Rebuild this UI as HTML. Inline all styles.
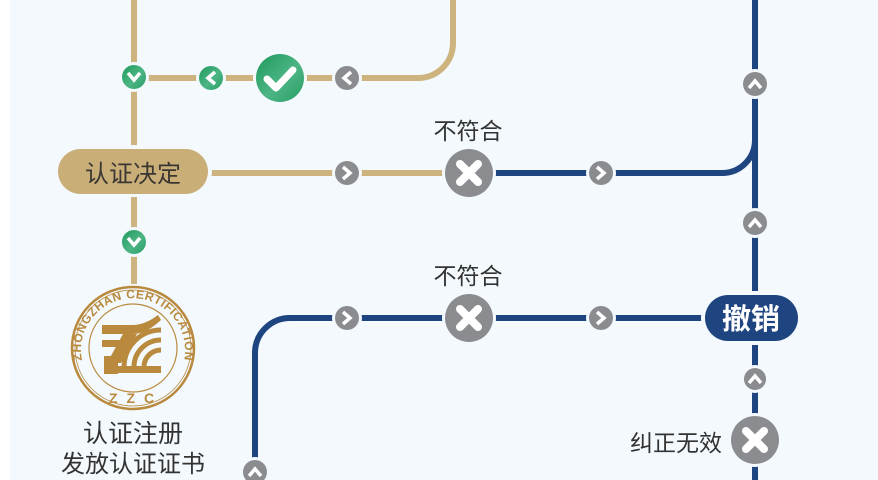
<!DOCTYPE html>
<html><head><meta charset="utf-8">
<style>
html,body{margin:0;padding:0;background:#f3f9fd;}
body{width:878px;height:480px;overflow:hidden;position:relative;}
svg{display:block;position:absolute;left:0;top:0;}
text{font-family:"Liberation Sans","Noto Sans CJK SC",sans-serif;}
</style></head>
<body>
<svg width="878" height="480" viewBox="0 0 878 480" xmlns="http://www.w3.org/2000/svg">
<defs>
<linearGradient id="gg" x1="0" y1="0" x2="1" y2="1">
<stop offset="0" stop-color="#1f9a5c"/><stop offset="0.55" stop-color="#4cb584"/><stop offset="1" stop-color="#2a9f66"/>
</linearGradient>
<path id="arcT" d="M89 378 A52 52 0 1 1 177 378"/>
</defs>
<rect x="0" y="0" width="878" height="480" fill="#f3f9fd"/>
<rect x="0" y="0" width="10" height="480" fill="#ffffff"/>

<!-- tan lines -->
<g stroke="#cdb47f" stroke-width="6" fill="none">
<path d="M134 0 V146"/>
<path d="M134 196 V284"/>
<path d="M134 78 H418 A35 35 0 0 0 453 43 V0"/>
<path d="M210 173 H446"/>
</g>
<!-- navy lines -->
<g stroke="#1f4580" stroke-width="6" fill="none">
<path d="M755 0 V480"/>
<path d="M492 173 H722 A33 33 0 0 0 755 140"/>
<path d="M255 480 V352 A35 35 0 0 1 290 318 H706"/>
</g>

<!-- pills -->
<rect x="54" y="145" width="158" height="52" rx="26" fill="#f3f9fd"/>
<rect x="58" y="149" width="150" height="45" rx="22.5" fill="#c9ae78"/>
<text x="133" y="182" font-size="24" fill="#3a3632" text-anchor="middle">认证决定</text>

<rect x="701" y="291" width="101" height="54" rx="27" fill="#f3f9fd"/>
<rect x="705" y="295" width="93" height="46" rx="23" fill="#1f4580"/>
<text x="751" y="329" font-size="29" font-weight="bold" fill="#ffffff" text-anchor="middle">撤销</text>

<!-- halos -->
<g fill="#f3f9fd">
<circle cx="134" cy="77" r="15"/>
<circle cx="211" cy="78" r="15"/>
<circle cx="280" cy="78" r="27"/>
<circle cx="347" cy="78" r="15"/>
<circle cx="347" cy="173" r="15"/>
<circle cx="469" cy="173" r="27"/>
<circle cx="601" cy="173" r="15"/>
<circle cx="755" cy="84" r="15"/>
<circle cx="755" cy="223" r="15"/>
<circle cx="134" cy="242" r="15"/>
<circle cx="347" cy="318" r="15"/>
<circle cx="469" cy="318" r="27"/>
<circle cx="601" cy="318" r="15"/>
<circle cx="755" cy="379" r="14"/>
<circle cx="755" cy="440" r="27"/>
<circle cx="255" cy="472" r="15"/>
</g>

<!-- green chevrons -->
<g>
<circle cx="134" cy="77" r="12" fill="url(#gg)"/>
<polyline points="128,73 134,80 140,73" fill="none" stroke="#fff" stroke-width="3.5" stroke-linejoin="miter"/>
<circle cx="211" cy="78" r="12" fill="url(#gg)"/>
<polyline points="215,72 208,78 215,84" fill="none" stroke="#fff" stroke-width="3.5"/>
<circle cx="134" cy="242" r="12" fill="url(#gg)"/>
<polyline points="128,238 134,245 140,238" fill="none" stroke="#fff" stroke-width="3.5"/>
<circle cx="280" cy="78" r="24" fill="url(#gg)"/>
<polyline points="267,79 276,88 293,70" fill="none" stroke="#fff" stroke-width="7" stroke-linecap="round" stroke-linejoin="round"/>
</g>

<!-- gray chevrons -->
<g fill="#8a8c8f">
<circle cx="347" cy="78" r="12"/>
<circle cx="347" cy="173" r="12"/>
<circle cx="601" cy="173" r="12"/>
<circle cx="755" cy="84" r="12"/>
<circle cx="755" cy="223" r="12"/>
<circle cx="347" cy="318" r="12"/>
<circle cx="601" cy="318" r="12"/>
<circle cx="755" cy="379" r="11"/>
<circle cx="255" cy="472" r="12"/>
</g>
<g fill="none" stroke="#fff" stroke-width="3.5">
<polyline points="351,72 344,78 351,84"/>
<polyline points="343,167 350,173 343,179"/>
<polyline points="597,167 604,173 597,179"/>
<polyline points="749,88 755,81 761,88"/>
<polyline points="749,227 755,220 761,227"/>
<polyline points="343,312 350,318 343,324"/>
<polyline points="597,312 604,318 597,324"/>
<polyline points="749,383 755,376 761,383"/>
<polyline points="249,476 255,469 261,476"/>
</g>

<!-- X circles -->
<g>
<circle cx="469" cy="173" r="24" fill="#8a8c8f"/>
<path d="M460 164 L478 182 M478 164 L460 182" stroke="#fff" stroke-width="8" stroke-linecap="round"/>
<circle cx="469" cy="318" r="24" fill="#8a8c8f"/>
<path d="M460 309 L478 327 M478 309 L460 327" stroke="#fff" stroke-width="8" stroke-linecap="round"/>
<circle cx="755" cy="440" r="24" fill="#8a8c8f"/>
<path d="M746 431 L764 449 M764 431 L746 449" stroke="#fff" stroke-width="8" stroke-linecap="round"/>
</g>

<!-- labels -->
<text x="468" y="139" font-size="23" fill="#333" text-anchor="middle">不符合</text>
<text x="468" y="284" font-size="23" fill="#333" text-anchor="middle">不符合</text>
<text x="722" y="451" font-size="23" fill="#333" text-anchor="end">纠正无效</text>

<!-- logo -->
<g>
<circle cx="133" cy="348" r="61" fill="#f3f9fd" stroke="#b98a3e" stroke-width="2.5"/>
<circle cx="133" cy="348" r="58" fill="none" stroke="#b98a3e" stroke-width="0.8"/>
<circle cx="133" cy="348" r="44" fill="none" stroke="#b98a3e" stroke-width="1.2"/>
<text font-size="12" font-weight="bold" fill="#b98a3e" letter-spacing="0.5"><textPath href="#arcT" startOffset="50%" text-anchor="middle">ZHONGZHAN CERTIFICATION</textPath></text>
<text x="136" y="403" font-size="14" font-weight="bold" fill="#b98a3e" text-anchor="middle" letter-spacing="9">ZZC</text>
<g fill="#b98a3e">
<path d="M102 325 H132 C142 325 150 321 158 315 L161 320 C152 328 144 334 132 334 H102 Z"/>
<rect x="102" y="340" width="19" height="7"/>
<path d="M123 334 H137 L121 363 H107 Z"/>
<rect x="104" y="356" width="14" height="18"/>
<rect x="117" y="366" width="44" height="7"/>
</g>
<g fill="none" stroke="#b98a3e" stroke-width="5">
<path d="M124 366 A37 37 0 0 1 161 330"/>
<path d="M134 366 A27 27 0 0 1 161 340"/>
<path d="M144 366 A17 17 0 0 1 161 350"/>
</g>
</g>
<text x="133" y="442" font-size="25" fill="#333" text-anchor="middle">认证注册</text>
<text x="133" y="472" font-size="24" fill="#333" text-anchor="middle">发放认证证书</text>
</svg>
</body></html>
